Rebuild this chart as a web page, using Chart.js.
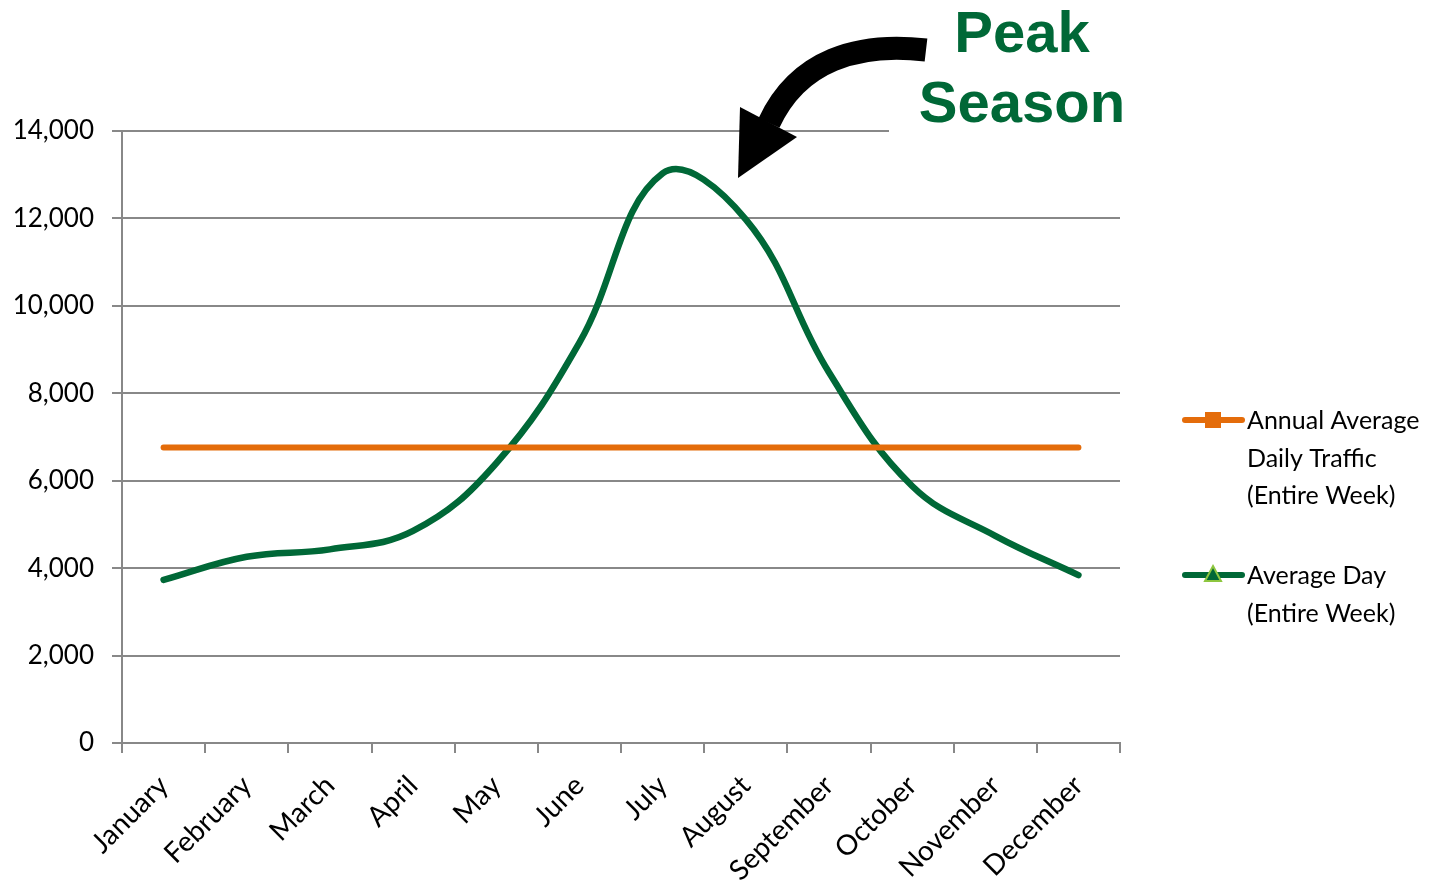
<!DOCTYPE html>
<html>
<head>
<meta charset="utf-8">
<script src="https://cdn.jsdelivr.net/npm/chart.js@4.4.1/dist/chart.umd.min.js"></script>
<style>
html,body{margin:0;padding:0;background:#fff;}
#wrap{width:1435px;height:894px;position:relative;}
</style>
</head>
<body>
<div id="wrap"><canvas id="chart" width="1435" height="894"></canvas></div>
<script>

let months = ["January","February","March","April","May","June","July","August","September","October","November","December"];
let annualAverage = [6760,6760,6760,6760,6760,6760,6760,6760,6760,6760,6760,6760];
let averageDay = [3730,4260,4430,4850,6400,9160,13030,11980,8480,5880,4740,3840];
let yTicks = [0,2000,4000,6000,8000,10000,12000,14000];

let legendLabels = [
["Annual Average","Daily Traffic","(Entire Week)"],
["Average Day","(Entire Week)"]
];
let annotationText = ["Peak","Season"];

let gridColor = "#888888";
let orange = "#E46C0A";
let green = "#006837";

let extras = {
id:"extras",
afterDraw:function(chart){

let ctx = chart.ctx;
ctx.save();

/* box behind annotation */
ctx.fillStyle = "#fff";
ctx.fillRect(889,0,260,140);

ctx.fillStyle = green;
ctx.font = "bold 58px 'Liberation Sans'";
ctx.textAlign = "center";
ctx.textBaseline = "alphabetic";
ctx.fillText(annotationText[0],1022,52);
ctx.fillText(annotationText[1],1022,122);

/* arrow */
ctx.strokeStyle = "#000";
ctx.lineWidth = 23;
ctx.lineCap = "butt";
ctx.beginPath();
ctx.moveTo(926,50);
ctx.bezierCurveTo(858,42,798,60,769,123);
ctx.stroke();

ctx.fillStyle = "#000";
ctx.beginPath();
ctx.moveTo(740,107);
ctx.lineTo(797,137);
ctx.lineTo(738,178);
ctx.closePath();
ctx.fill();

/* legend */
ctx.lineCap = "round";
ctx.lineWidth = 6;

ctx.strokeStyle = orange;
ctx.beginPath();
ctx.moveTo(1185,420);
ctx.lineTo(1242,420);
ctx.stroke();
ctx.fillStyle = orange;
ctx.fillRect(1205,412,16,16);

ctx.strokeStyle = green;
ctx.beginPath();
ctx.moveTo(1185,575);
ctx.lineTo(1242,575);
ctx.stroke();
ctx.fillStyle = green;
ctx.strokeStyle = "#8DC63F";
ctx.lineWidth = 2;
ctx.beginPath();
ctx.moveTo(1213,566);
ctx.lineTo(1221,581);
ctx.lineTo(1205,581);
ctx.closePath();
ctx.fill();
ctx.stroke();

ctx.fillStyle = "#000";
ctx.font = "25px Lato";
ctx.textAlign = "left";
ctx.textBaseline = "middle";
legendLabels[0].forEach(function(t,i){
ctx.fillText(t,1247,421+i*37.5);
});
legendLabels[1].forEach(function(t,i){
ctx.fillText(t,1247,576+i*37.5);
});

ctx.restore();
}
};

new Chart(document.getElementById("chart"),{
type:"line",
data:{
labels:months,
datasets:[{
label:"Annual Average Daily Traffic (Entire Week)",
data:annualAverage,
borderColor:orange,
backgroundColor:orange,
borderWidth:6,
borderCapStyle:"round",
pointRadius:0,
tension:0
},{
label:"Average Day (Entire Week)",
data:averageDay,
borderColor:green,
backgroundColor:green,
borderWidth:6.5,
borderCapStyle:"round",
pointRadius:0,
tension:0.4
}]
},
plugins:[extras],
options:{
responsive:false,
animation:false,
layout:{padding:{top:131,right:315,left:0,bottom:0}},
plugins:{
legend:{display:false},
tooltip:{enabled:false}
},
scales:{
x:{
offset:true,
grid:{
offset:true,
drawOnChartArea:false,
drawTicks:true,
tickLength:10,
color:gridColor,
lineWidth:2
},
border:{color:gridColor,width:2},
ticks:{
minRotation:45,
maxRotation:45,
color:"#000",
font:{family:"Lato",size:28},
padding:16
},
afterFit:function(scale){
scale.height = 151;
}
},
y:{
min:0,
max:14000,
afterBuildTicks:function(scale){
scale.ticks = yTicks.map(function(v){return {value:v};});
},
grid:{
color:gridColor,
lineWidth:2,
tickLength:10
},
border:{color:gridColor,width:2},
ticks:{
color:"#000",
font:{family:"Lato",size:26},
padding:18,
callback:function(value){
return value.toLocaleString("en-US");
}
},
afterFit:function(scale){
scale.width = 122;
}
}
}
}
});

</script>
</body>
</html>
